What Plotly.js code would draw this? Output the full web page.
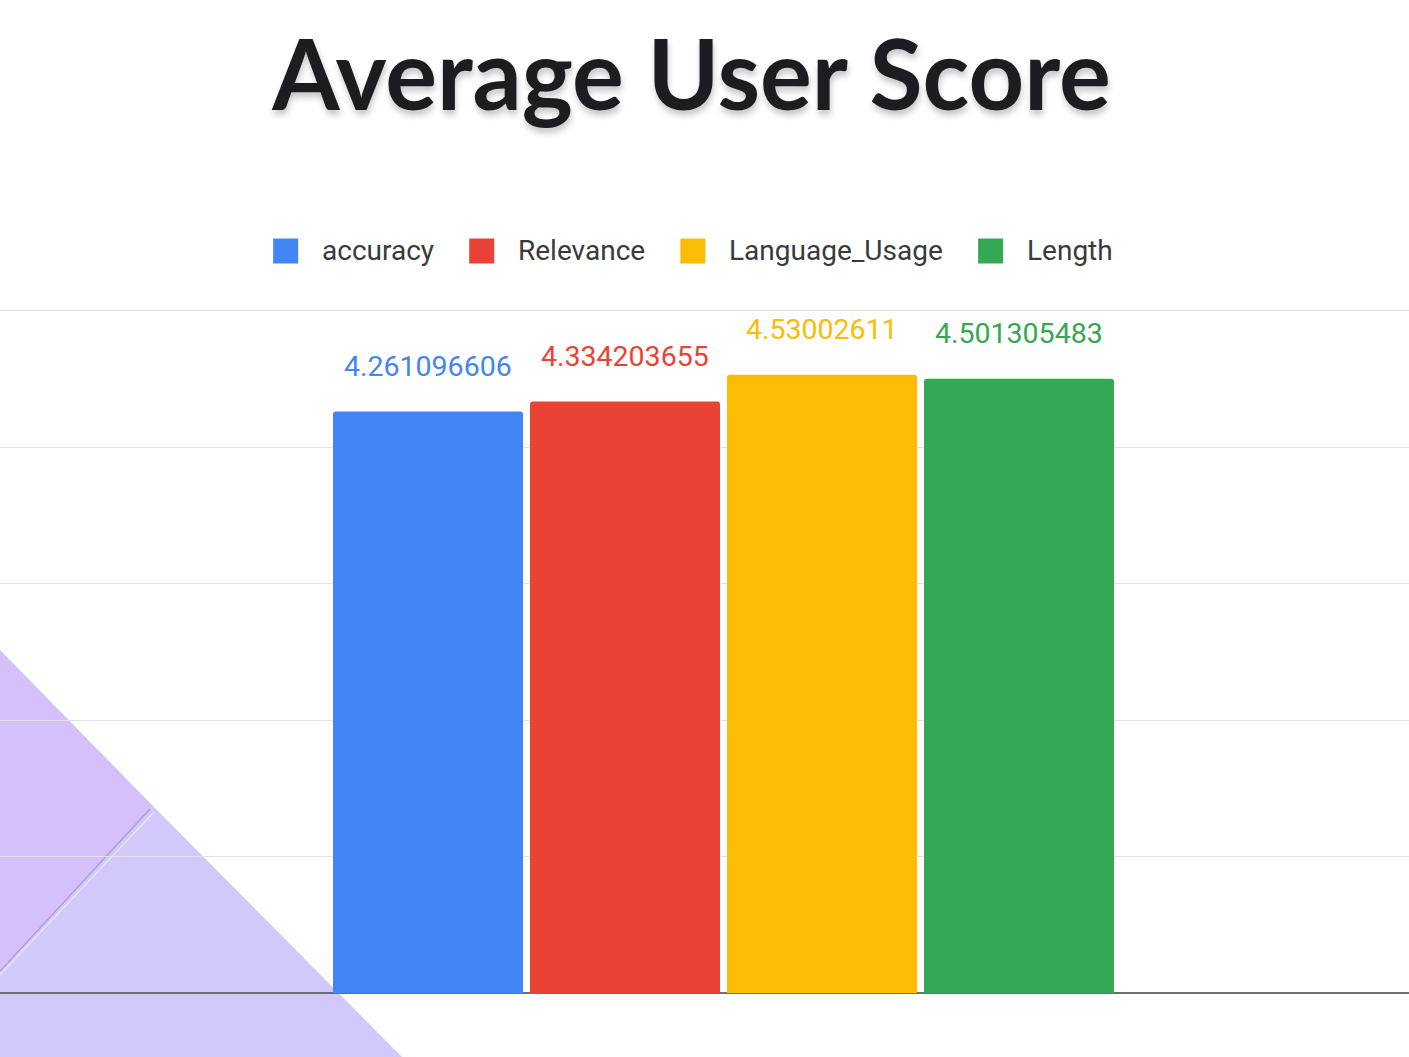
<!DOCTYPE html>
<html>
<head>
<meta charset="utf-8">
<script src="https://cdn.plot.ly/plotly-3.0.1.min.js"></script>
<style>
  html, body { margin: 0; padding: 0; background: #ffffff; }
  #chart { width: 1409px; height: 1057px; }
</style>
</head>
<body>
<div id="chart"></div>
<script>
// ---- data ----
const seriesNames = ["accuracy", "Relevance", "Language_Usage", "Length"];
const seriesValues = [4.261096606, 4.334203655, 4.53002611, 4.501305483];
const seriesLabels = ["4.261096606", "4.334203655", "4.53002611", "4.501305483"];
const seriesColors = ["#4285f4", "#ea4335", "#fbbc04", "#34a853"];
const chartTitle = "Average User Score";

// ---- geometry helpers (page px -> paper fractions) ----
const W = 1409, H = 1057;
const M = { l: 0, r: 0, t: 308, b: 64 };
const plotH = H - M.t - M.b;
const px2x = px => (px - M.l) / (W - M.l - M.r);
const py2y = py => (H - M.b - py) / plotH;

// ---- bar traces ----
const traces = seriesNames.map((name, i) => ({
  type: "bar",
  name: name,
  x: [name],
  y: [seriesValues[i]],
  marker: { color: seriesColors[i], line: { width: 0 } },
  hoverinfo: "skip",
  showlegend: false
}));

// ---- value labels ----
const annotations = seriesNames.map((name, i) => ({
  xref: "x", yref: "y",
  x: name, y: seriesValues[i],
  text: seriesLabels[i],
  showarrow: false,
  yanchor: "middle",
  yshift: 45,
  font: { family: "Roboto, sans-serif", size: 28.5, color: seriesColors[i] }
}));

// ---- custom legend (large square swatches) ----
const legSize = 28;
const ctx = document.createElement("canvas").getContext("2d");
ctx.font = legSize + "px Roboto";
const sw = 25, swGap = 22, itemGap = 37;
const widths = seriesNames.map(n => ctx.measureText(n).width);
let total = 0;
widths.forEach((w, i) => { total += sw + swGap + w + (i < widths.length - 1 ? itemGap : 0); });
let cx = 692 - total / 2;
const legY = 251;
const shapes = [];

// decorative lavender triangle (bottom-left background)
shapes.push({
  type: "path", xref: "paper", yref: "paper", layer: "below",
  path: `M ${px2x(-2)} ${py2y(648)} L ${px2x(153)} ${py2y(806)} L ${px2x(-2)} ${py2y(972)} Z`,
  fillcolor: "#d5c0fa", line: { width: 0 }
});
shapes.push({
  type: "path", xref: "paper", yref: "paper", layer: "below",
  path: `M ${px2x(-2)} ${py2y(972)} L ${px2x(153)} ${py2y(806)} L ${px2x(405)} ${py2y(1060)} L ${px2x(-2)} ${py2y(1060)} Z`,
  fillcolor: "#d3c8fa", line: { width: 0 }
});
shapes.push({
  type: "line", xref: "paper", yref: "paper", layer: "below",
  x0: px2x(0), y0: py2y(971), x1: px2x(150), y1: py2y(809),
  line: { color: "rgba(140,120,185,0.55)", width: 1.5 }
});
shapes.push({
  type: "line", xref: "paper", yref: "paper", layer: "below",
  x0: px2x(0), y0: py2y(975), x1: px2x(154), y1: py2y(812),
  line: { color: "rgba(235,228,255,0.9)", width: 1.5 }
});

seriesNames.forEach((name, i) => {
  shapes.push({
    type: "rect", xref: "paper", yref: "paper",
    x0: px2x(cx), x1: px2x(cx + sw),
    y0: py2y(legY + sw / 2), y1: py2y(legY - sw / 2),
    fillcolor: seriesColors[i], line: { width: 0 }
  });
  annotations.push({
    xref: "paper", yref: "paper",
    x: px2x(cx + sw + swGap), y: py2y(legY),
    xanchor: "left", yanchor: "middle",
    text: name, showarrow: false,
    font: { family: "Roboto, sans-serif", size: legSize, color: "#3a3a3a" }
  });
  cx += sw + swGap + widths[i] + itemGap;
});

// x range so that bars sit where they do in the reference
const unit = 197, firstCenter = 428;
const r0 = -firstCenter / unit;
const r1 = r0 + W / unit;

const layout = {
  width: W, height: H,
  margin: M,
  paper_bgcolor: "#ffffff",
  plot_bgcolor: "rgba(0,0,0,0)",
  barmode: "overlay",
  bargap: 7 / unit,
  barcornerradius: 3,
  showlegend: false,
  title: {
    text: "<b>" + chartTitle + "</b>",
    x: 691.5 / W, xanchor: "center", xref: "paper",
    y: 1 - 76 / H, yanchor: "middle", yref: "container",
    font: {
      family: "Lato, 'Open Sans', sans-serif", size: 97, color: "#1c1d21", weight: 900,
      shadow: "1px 5px 6px rgba(0,0,0,0.22)"
    }
  },
  xaxis: {
    type: "category",
    categoryorder: "array", categoryarray: seriesNames,
    range: [r0, r1],
    showticklabels: false, showgrid: false, zeroline: false,
    showline: false, ticks: "", fixedrange: true
  },
  yaxis: {
    range: [0, 5.02], dtick: 1, tick0: 0,
    showticklabels: false, ticks: "",
    showgrid: true, gridcolor: "#e3e3e3", gridwidth: 1,
    zeroline: true, zerolinecolor: "#6f6f6f", zerolinewidth: 2,
    showline: false, fixedrange: true
  },
  shapes: shapes,
  annotations: annotations,
  font: { family: "Roboto, sans-serif" }
};

Plotly.newPlot("chart", traces, layout, { displayModeBar: false, staticPlot: true });
</script>
</body>
</html>
